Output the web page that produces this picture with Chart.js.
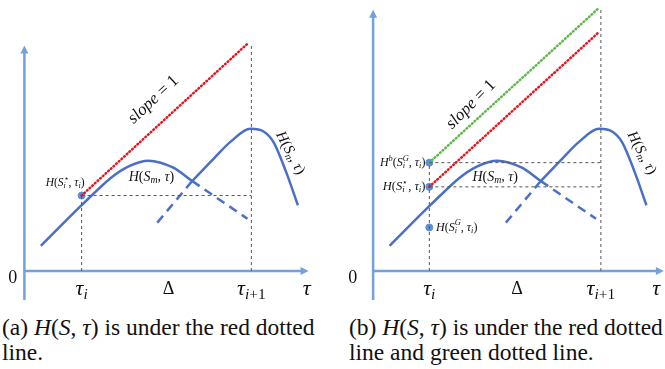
<!DOCTYPE html>
<html>
<head>
<meta charset="utf-8">
<script src="https://cdn.jsdelivr.net/npm/chart.js@4/dist/chart.umd.min.js"></script>
<style>
  html, body { margin: 0; padding: 0; background: #fff; width: 665px; height: 369px; overflow: hidden; }
  .panel { position: absolute; top: 0; }
  .cap { position: absolute; font: 23.5px "Liberation Serif", serif; line-height: 25px; color: #111; white-space: normal; }
  .cap i { font-style: italic; }
</style>
</head>
<body>
<canvas id="chartA" class="panel" style="left:0" width="332" height="305"></canvas>
<canvas id="chartB" class="panel" style="left:340px" width="325" height="305"></canvas>
<div class="cap" style="left:2px; top:315px; width:334px">(a) <i>H</i>(<i>S</i>, <i>τ</i>) is under the red dotted line.</div>
<div class="cap" style="left:349px; top:315px; width:334px">(b) <i>H</i>(<i>S</i>, <i>τ</i>) is under the red dotted line and green dotted line.</div>
<script>
// ===== DATA (x, y in diagram units, origin at the axes corner) =====
const curveM = [[17, 26], [59, 68], [90, 97], [107, 108], [128, 114], [153, 107], [173, 93]];
const curveN = [[173, 93], [195, 116], [213, 134], [233, 147], [247, 144], [257, 133], [270, 102], [282, 68]];
const dashM = [[173, 93], [230, 54]];
const dashN = [[137, 50], [173, 93]];

const tickText = ['τ_i', 'Δ', 'τ_{i+1}', 'τ'];

// panel (a)
const tauA = [59, 234];
const redA = [[59, 78], [230, 235]];
const dotsA = [[59, 78]];
const levelsA = [78];

// panel (b)
const tauB = [58, 235];
const redB = [[58, 87], [233, 247]];
const greenB = [[58, 112], [233, 272]];
const dotsB = [[58, 112], [58, 87], [58, 45]];
const levelsB = [112, 87];

const BLUE = '#4a6fc6';
const AXIS = '#74a0dc';
const DOT = '#5d8fd8';
const GUIDE = '#555';

// ---- tiny TeX-ish text layout: _ and ^ scripts, letters italic ----
function parseTex(s) {
  const out = [];
  let i = 0;
  while (i < s.length) {
    const c = s[i];
    if (c === '_' || c === '^') {
      let txt;
      if (s[i + 1] === '{') { const j = s.indexOf('}', i); txt = s.slice(i + 2, j); i = j + 1; }
      else { txt = s[i + 1]; i += 2; }
      out.push({ t: txt, pos: c === '_' ? 'sub' : 'sup' });
    } else { out.push({ t: c, pos: 'base' }); i++; }
  }
  return out;
}

function layoutTex(ctx, s, size) {
  const runs = [];
  let x = 0, prev = null, sStart = 0;
  parseTex(s).forEach(tok => {
    const script = tok.pos !== 'base';
    const sz = script ? size * 0.7 : size;
    let x0;
    if (script && prev && prev !== 'base' && prev !== tok.pos) x0 = sStart;
    else { x0 = x; if (script) sStart = x; }
    let cx = x0;
    for (const ch of tok.t) {
      const font = (/[A-Za-zα-ω]/.test(ch) ? 'italic ' : '') + sz + 'px "Liberation Serif", serif';
      ctx.font = font;
      const w = ctx.measureText(ch).width;
      const dy = tok.pos === 'sub' ? size * 0.24 : tok.pos === 'sup' ? -size * 0.36 : 0;
      runs.push({ ch, font, x: cx, dy });
      cx += w;
    }
    x = Math.max(x, cx);
    prev = tok.pos;
  });
  return { runs, width: x };
}

function drawTex(ctx, s, px, py, size, align, angle, color) {
  const lay = layoutTex(ctx, s, size);
  const off = align === 'left' ? 0 : align === 'right' ? -lay.width : -lay.width / 2;
  ctx.save();
  ctx.translate(px, py);
  if (angle) ctx.rotate(angle * Math.PI / 180);
  ctx.fillStyle = color || '#111';
  ctx.textBaseline = 'middle';
  ctx.textAlign = 'left';
  lay.runs.forEach(r => { ctx.font = r.font; ctx.fillText(r.ch, off + r.x, r.dy); });
  ctx.restore();
}

// ---- plugins ----
const axesPlugin = {
  id: 'axes',
  beforeDatasetsDraw(chart, args, opts) {
    const { ctx, scales: { x, y } } = chart;
    const ox = x.getPixelForValue(0), oy = y.getPixelForValue(0);
    const top = y.getPixelForValue(opts.yTop), bottom = y.getPixelForValue(opts.yBottom);
    const right = x.getPixelForValue(opts.xRight);
    ctx.save();
    ctx.strokeStyle = AXIS; ctx.fillStyle = AXIS; ctx.lineWidth = 2.5;
    ctx.beginPath(); ctx.moveTo(ox, bottom); ctx.lineTo(ox, top + 6); ctx.stroke();
    ctx.beginPath(); ctx.moveTo(ox, top); ctx.lineTo(ox - 4, top + 8); ctx.lineTo(ox + 4, top + 8); ctx.closePath(); ctx.fill();
    ctx.beginPath(); ctx.moveTo(ox, oy); ctx.lineTo(right - 6, oy); ctx.stroke();
    ctx.beginPath(); ctx.moveTo(right, oy); ctx.lineTo(right - 8, oy - 4); ctx.lineTo(right - 8, oy + 4); ctx.closePath(); ctx.fill();
    ctx.restore();
  }
};

const labelPlugin = {
  id: 'labels',
  afterDatasetsDraw(chart, args, opts) {
    const { ctx, scales: { x, y } } = chart;
    opts.items.forEach(l => {
      drawTex(ctx, l.text, x.getPixelForValue(l.x), y.getPixelForValue(l.y), l.size, l.align || 'center', l.angle || 0);
    });
  }
};

function pts(arr) { return arr.map(p => ({ x: p[0], y: p[1] })); }

function curveSets() {
  const solid = { showLine: true, borderColor: BLUE, borderWidth: 2.5, pointRadius: 0, cubicInterpolationMode: 'monotone', fill: false };
  const dashed = { showLine: true, borderColor: BLUE, borderWidth: 2.5, pointRadius: 0, borderDash: [9, 6], fill: false };
  return [
    { ...solid, data: pts(curveM) },
    { ...solid, data: pts(curveN) },
    { ...dashed, data: pts(dashM) },
    { ...dashed, data: pts(dashN) }
  ];
}

function guideSet(a, b) {
  return { showLine: true, borderColor: GUIDE, borderWidth: 1, borderDash: [3, 3], pointRadius: 0, data: pts([a, b]) };
}

function dottedSet(line, color) {
  return { showLine: true, borderColor: color, borderWidth: 2.5, borderDash: [0.8, 2.8], borderCapStyle: 'round', pointRadius: 0, data: pts(line) };
}

function dotsSet(arr) {
  return { showLine: false, pointRadius: 3.5, pointBackgroundColor: DOT, pointBorderColor: DOT, data: pts(arr) };
}

function tickLabels(tau, zeroX) {
  const xs = [tau[0], (tau[0] + tau[1]) / 2 + 2, tau[1], tau[1] + 57];
  const items = tickText.map((t, i) => ({ text: t, x: xs[i], y: -19, size: i === 1 ? 18 : 22 }));
  items.push({ text: '0', x: zeroX, y: -8, size: 18 });
  return items;
}

function makeChart(id, datasets, xMin, xMax, axes, labels) {
  return new Chart(document.getElementById(id), {
    type: 'scatter',
    data: { datasets },
    options: {
      responsive: false,
      animation: false,
      events: [],
      layout: { padding: 0 },
      plugins: { legend: { display: false }, tooltip: { enabled: false }, axes, labels: { items: labels } },
      scales: {
        x: { type: 'linear', display: false, min: xMin, max: xMax },
        y: { type: 'linear', display: false, min: -30, max: 275 }
      }
    },
    plugins: [axesPlugin, labelPlugin]
  });
}

// ---- panel (a) ----
const setsA = [
  guideSet([tauA[0], 0], [tauA[0], levelsA[0]]),
  guideSet([tauA[1], 0], [tauA[1], redA[1][1]]),
  guideSet([tauA[0], levelsA[0]], [tauA[1], levelsA[0]]),
  dottedSet(redA, '#e8141b'),
  ...curveSets(),
  dotsSet(dotsA)
];
const labelsA = [
  ...tickLabels(tauA, -12),
  { text: 'slope = 1', x: 133, y: 177, size: 17, angle: -43 },
  { text: 'H(S_m, τ)', x: 131, y: 97, size: 14 },
  { text: 'H(S_n, τ)', x: 274, y: 122, size: 15, angle: 62 },
  { text: 'H(S_i^⋆, τ_i)', x: 62, y: 91, size: 11.5, align: 'right' }
];
makeChart('chartA', setsA, -20, 312, { yTop: 233, yBottom: -30, xRight: 293 }, labelsA);

// ---- panel (b) ----
const setsB = [
  guideSet([tauB[0], 0], [tauB[0], levelsB[0]]),
  guideSet([tauB[1], 0], [tauB[1], greenB[1][1]]),
  ...levelsB.map(v => guideSet([tauB[0], v], [tauB[1], v])),
  dottedSet(greenB, '#5cb848'),
  dottedSet(redB, '#e8141b'),
  ...curveSets(),
  dotsSet(dotsB)
];
const labelsB = [
  ...tickLabels(tauB, -21),
  { text: 'slope = 1', x: 101, y: 172, size: 17, angle: -45 },
  { text: 'H(S_m, τ)', x: 126, y: 97, size: 14 },
  { text: 'H(S_n, τ)', x: 277, y: 122, size: 15, angle: 62 },
  { text: 'H^b(S_i^G, τ_i)', x: 54, y: 112, size: 12, align: 'right' },
  { text: 'H(S_i^⋆, τ_i)', x: 54, y: 87, size: 12.5, align: 'right' },
  { text: 'H(S_i^G, τ_i)', x: 65, y: 45, size: 12, align: 'left' }
];
makeChart('chartB', setsB, -29, 296, { yTop: 270, yBottom: -30, xRight: 300 }, labelsB);
</script>
</body>
</html>
